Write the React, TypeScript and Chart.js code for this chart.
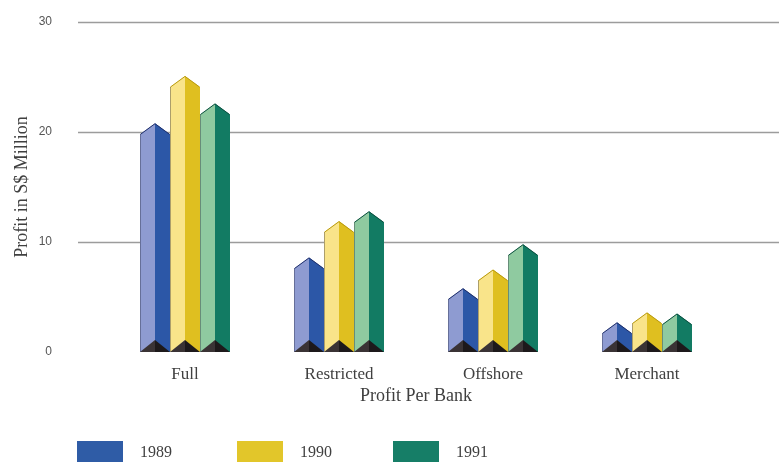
import React, { useEffect, useRef } from 'react';
import { Chart, registerables } from 'chart.js';

Chart.register(...registerables);

// Profit per bank, S$ million
const categories = ['Full', 'Restricted', 'Offshore', 'Merchant'];
const years = ['1989', '1990', '1991'];
const profit1989 = [20.8, 8.6, 5.8, 2.7];
const profit1990 = [25.1, 11.9, 7.5, 3.6];
const profit1991 = [22.6, 12.8, 9.8, 3.5];
const yTicks = [0, 10, 20, 30];

const series = [profit1989, profit1990, profit1991];

// two shades per year: lit left face, shaded right face
const lightFaces = ['#8e9bd1', '#f9e48a', '#8fcaa0'];
const darkFaces = ['#2c57a7', '#dfbf20', '#127b63'];
const roofEdges = ['#1f2f6a', '#b89a10', '#0c4f40'];
const legendColors = ['#2f5ca6', '#e2c62a', '#167e67'];

const SERIF = '"Liberation Serif", "Times New Roman", serif';
const SANS = '"Liberation Sans", Arial, sans-serif';
const TEXT = '#404040';

// horizontal rules that run past the plot edges
const gridPlugin = {
  id: 'wideGrid',
  beforeDatasetsDraw(chart: any) {
    const { ctx, scales } = chart;
    const yScale = scales.y;
    ctx.save();
    ctx.strokeStyle = '#9c9c9c';
    ctx.lineWidth = 1.6;
    yTicks.forEach((v) => {
      if (v === 0) return;
      const py = Math.round(yScale.getPixelForValue(v)) + 0.5;
      ctx.beginPath();
      ctx.moveTo(chart.chartArea.left - 30, py);
      ctx.lineTo(chart.width, py);
      ctx.stroke();
    });
    ctx.restore();
  },
};

// draws each bar as a two-faced prism with a pointed top and a dark foot
const prismPlugin = {
  id: 'prisms',
  afterDatasetsDraw(chart: any) {
    const ctx = chart.ctx;
    chart.data.datasets.forEach((_ds: any, di: number) => {
      const meta = chart.getDatasetMeta(di);
      meta.data.forEach((bar: any) => {
        const { x, y, base, width } = bar.getProps(['x', 'y', 'base', 'width'], true);
        const x0 = x - width / 2;
        const x1 = x + width / 2;
        const roof = width * 0.37;
        const foot = width * 0.4;
        ctx.save();
        // left face
        ctx.fillStyle = lightFaces[di];
        ctx.beginPath();
        ctx.moveTo(x0, base);
        ctx.lineTo(x0, y + roof);
        ctx.lineTo(x, y);
        ctx.lineTo(x, base);
        ctx.closePath();
        ctx.fill();
        // right face
        ctx.fillStyle = darkFaces[di];
        ctx.beginPath();
        ctx.moveTo(x, base);
        ctx.lineTo(x, y);
        ctx.lineTo(x1, y + roof);
        ctx.lineTo(x1, base);
        ctx.closePath();
        ctx.fill();
        // roof edges
        ctx.strokeStyle = roofEdges[di];
        ctx.lineWidth = 1;
        ctx.beginPath();
        ctx.moveTo(x0 + 0.5, y + roof);
        ctx.lineTo(x, y + 0.5);
        ctx.lineTo(x1 - 0.5, y + roof);
        ctx.stroke();
        // thin shadow line down the left edge
        ctx.strokeStyle = 'rgba(30,30,50,0.35)';
        ctx.beginPath();
        ctx.moveTo(x0 + 0.5, y + roof);
        ctx.lineTo(x0 + 0.5, base);
        ctx.stroke();
        // foot
        ctx.fillStyle = '#3a3335';
        ctx.beginPath();
        ctx.moveTo(x0, base);
        ctx.lineTo(x, base - foot);
        ctx.lineTo(x, base);
        ctx.closePath();
        ctx.fill();
        ctx.fillStyle = '#1d191b';
        ctx.beginPath();
        ctx.moveTo(x, base);
        ctx.lineTo(x, base - foot);
        ctx.lineTo(x1, base);
        ctx.closePath();
        ctx.fill();
        ctx.restore();
      });
    });
  },
};

// legend row of wide swatches along the bottom
const legendPlugin = {
  id: 'swatchLegend',
  afterDraw(chart: any) {
    const ctx = chart.ctx;
    const top = 441;
    const boxW = 46;
    const boxH = 21;
    const starts = [77, 237, 393];
    ctx.save();
    ctx.font = `16px ${SERIF}`;
    ctx.textBaseline = 'middle';
    years.forEach((yr, i) => {
      ctx.fillStyle = legendColors[i];
      ctx.fillRect(starts[i], top, boxW, boxH);
      ctx.fillStyle = TEXT;
      ctx.fillText(yr, starts[i] + 63, top + boxH / 2 + 1);
    });
    ctx.restore();
  },
};

export default function App() {
  const canvasRef = useRef<HTMLCanvasElement>(null);

  useEffect(() => {
    document.body.style.margin = '0';
    const canvas = canvasRef.current;
    if (!canvas) return;
    const chart = new Chart(canvas, {
      type: 'bar',
      data: {
        labels: categories,
        datasets: years.map((yr, i) => ({
          label: yr,
          data: series[i],
          backgroundColor: 'rgba(0,0,0,0)',
          borderWidth: 0,
          barThickness: 30,
        })),
      },
      options: {
        responsive: false,
        animation: false,
        devicePixelRatio: 1,
        layout: { padding: { top: 22, right: 55, left: 0, bottom: 0 } },
        plugins: {
          legend: { display: false },
          tooltip: { enabled: false },
        },
        scales: {
          x: {
            grid: { display: false, drawTicks: false },
            border: { display: false },
            ticks: { font: { family: SERIF, size: 17 }, color: TEXT, padding: 12 },
            title: {
              display: true,
              text: 'Profit Per Bank',
              font: { family: SERIF, size: 18 },
              color: TEXT,
              padding: { top: 0, bottom: 59 },
            },
            afterFit: (s: any) => {
              s.height = 114;
            },
          },
          y: {
            min: 0,
            max: 30,
            afterBuildTicks: (s: any) => {
              s.ticks = yTicks.map((v) => ({ value: v }));
            },
            ticks: { font: { family: SANS, size: 12 }, color: '#555', padding: 56 },
            grid: { display: false, drawTicks: false },
            border: { display: false },
            title: {
              display: true,
              text: 'Profit in S$ Million',
              font: { family: SERIF, size: 18 },
              color: TEXT,
              padding: { top: 11, bottom: 0 },
            },
            afterFit: (s: any) => {
              s.width = 108;
              s.paddingTop = 0;
              s.paddingBottom = 0;
            },
          },
        },
      },
      plugins: [gridPlugin, prismPlugin, legendPlugin],
    });
    return () => chart.destroy();
  }, []);

  return (
    <div style={{ width: 779, height: 466, background: '#ffffff' }}>
      <canvas ref={canvasRef} width={779} height={466} />
    </div>
  );
}
